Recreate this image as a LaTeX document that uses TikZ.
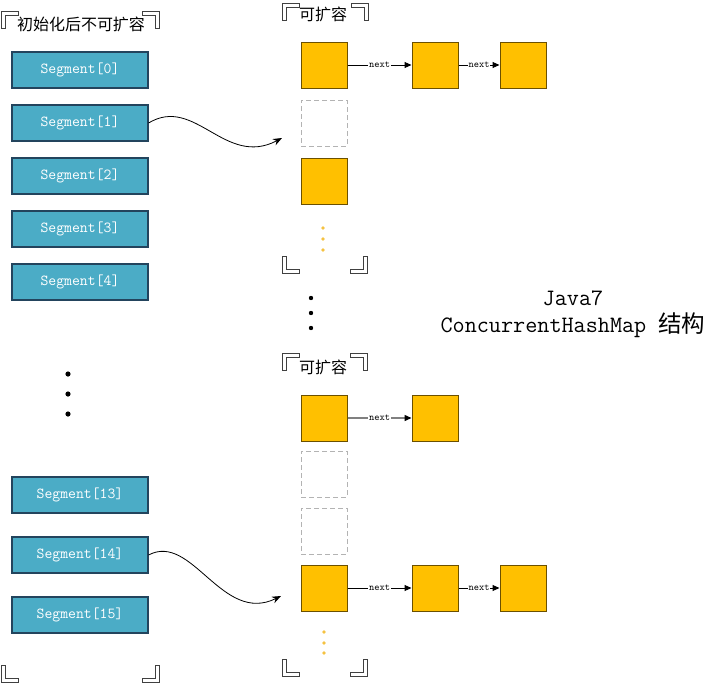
\documentclass[tikz,border=0pt]{standalone}
\usepackage{fontspec}
\newfontfamily\cjk{Noto Sans CJK SC}
\usetikzlibrary{arrows.meta}
\definecolor{segfill}{HTML}{4BACC6}
\definecolor{segdraw}{HTML}{23445D}
\definecolor{orfill}{HTML}{FFC000}
\definecolor{ordraw}{HTML}{6B5000}
\definecolor{dashgray}{HTML}{B3B3B3}
\definecolor{dotyel}{HTML}{F5C242}
\tikzset{
  segbox/.style={draw=segdraw, line width=1.1pt, fill=segfill, minimum width=136pt, minimum height=36pt, inner sep=0pt, text=white, font=\fontsize{15.3}{16}\selectfont\ttfamily},
  orbox/.style={draw=ordraw, line width=1pt, fill=orfill, minimum width=46pt, minimum height=46pt, inner sep=0pt},
  emptybox/.style={draw=dashgray, line width=0.9pt, dash pattern=on 5pt off 3pt, minimum width=46pt, minimum height=46pt, inner sep=0pt},
  nextarrow/.style={-{Triangle[length=7pt,width=6pt,color=black]}, line width=1pt},
  nextlabel/.style={fill=white, inner sep=0.6pt, font=\fontsize{10}{10}\selectfont\ttfamily},
  curvearrow/.style={-{Stealth[length=9pt,width=7pt]}, line width=0.8pt},
  cornerstyle/.style={draw=black!75, line width=0.8pt, fill=white},
  corner/.pic={\path[cornerstyle] (0,0) -- (17,0) -- (17,4) -- (4,4) -- (4,17) -- (0,17) -- cycle;},
  grouptitle/.style={inner sep=0pt, font=\fontsize{16}{16}\selectfont\cjk},
  titletext/.style={inner sep=0pt, font=\fontsize{23.5}{24}\selectfont\ttfamily},
}
\begin{document}
\begin{tikzpicture}[x=1pt,y=-1pt]
\useasboundingbox (0,0) rectangle (718,683);

% ---- left group ----
\pic at (1,11) {corner};
\pic[xscale=-1] at (159,11) {corner};
\pic[yscale=-1] at (1,682) {corner};
\pic[xscale=-1,yscale=-1] at (159,682) {corner};
\node[grouptitle] (lt) at (81,24) {初始化后不可扩容};

\node[segbox] (s0) at (80,70) {Segment[0]};
\node[segbox] (s1) at (80,123) {Segment[1]};
\node[segbox] (s2) at (80,176) {Segment[2]};
\node[segbox] (s3) at (80,229) {Segment[3]};
\node[segbox] (s4) at (80,282) {Segment[4]};
\node[segbox] (s13) at (80,495) {Segment[13]};
\node[segbox] (s14) at (80,555) {Segment[14]};
\node[segbox] (s15) at (80,615) {Segment[15]};

\foreach \yy in {374,394,414} \fill (68,\yy) circle (2.6pt);

% ---- right top group ----
\pic at (282,3) {corner};
\pic[xscale=-1] at (368,3) {corner};
\pic[yscale=-1] at (282,273) {corner};
\pic[xscale=-1,yscale=-1] at (367,273) {corner};
\node[grouptitle] (rt1) at (323,14) {可扩容};

\node[orbox] (a1) at (324,65) {};
\node[orbox] (a2) at (435,65) {};
\node[orbox] (a3) at (523,65) {};
\node[emptybox] (a4) at (324,123) {};
\node[orbox] (a5) at (324,181) {};
\foreach \yy in {228,239,250} \fill[dotyel] (323,\yy) circle (1.8pt);

\draw[nextarrow] (a1) -- node[nextlabel] {next} (a2);
\draw[nextarrow] (a2) -- node[nextlabel] {next} (a3);

% middle dots
\foreach \yy in {298,313,328} \fill (311,\yy) circle (2.2pt);

% ---- title ----
\node[titletext] (t1) at (573,298) {Java7};
\node[titletext] (t2) at (573,325) {ConcurrentHashMap {\cjk 结构}};

% ---- right bottom group ----
\pic at (282,353) {corner};
\pic[xscale=-1] at (367,353) {corner};
\pic[yscale=-1] at (282,676) {corner};
\pic[xscale=-1,yscale=-1] at (367,676) {corner};
\node[grouptitle] (rt2) at (323,367) {可扩容};

\node[orbox] (b1) at (324,418) {};
\node[orbox] (b2) at (435,418) {};
\node[emptybox] (b3) at (324,474) {};
\node[emptybox] (b4) at (324,531) {};
\node[orbox] (b5) at (324,588) {};
\node[orbox] (b6) at (435,588) {};
\node[orbox] (b7) at (523,588) {};
\foreach \yy in {632,643,653} \fill[dotyel] (324,\yy) circle (1.8pt);

\draw[nextarrow, draw=gray, line width=1.4pt] (b1) -- node[nextlabel] {next} (b2);
\draw[nextarrow] (b5) -- node[nextlabel] {next} (b6);
\draw[nextarrow] (b6) -- node[nextlabel] {next} (b7);

% ---- curved connectors ----
\coordinate (e1) at (282,138);
\coordinate (e2) at (281,596);
\draw[curvearrow] (s1.east) .. controls (195,95) and (225,168) .. (e1);
\draw[curvearrow] (s14.east) .. controls (192,532) and (222,625) .. (e2);
\end{tikzpicture}
\end{document}
